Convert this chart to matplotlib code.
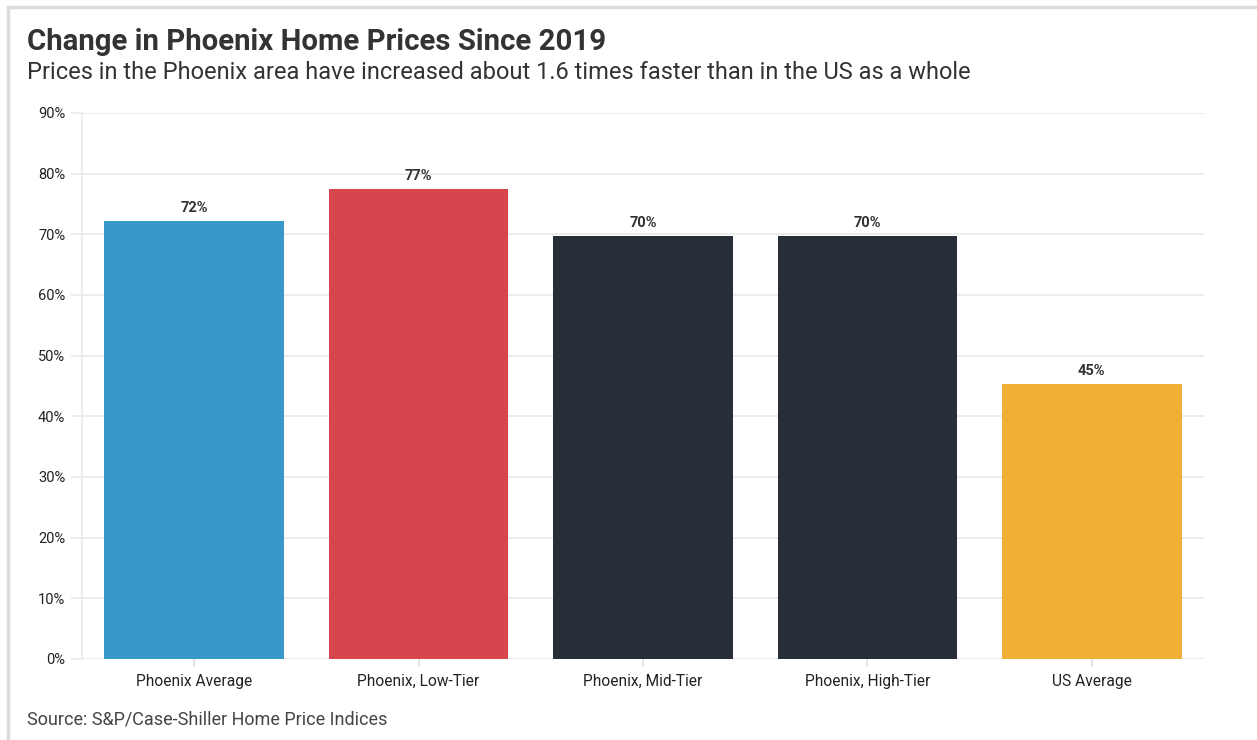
import numpy as np
import matplotlib.pyplot as plt
from matplotlib.patches import Rectangle

categories = ['Phoenix Average', 'Phoenix, Low-Tier', 'Phoenix, Mid-Tier',
              'Phoenix, High-Tier', 'US Average']
values = [72.2, 77.4, 69.7, 69.7, 45.3]
labels = ['72%', '77%', '70%', '70%', '45%']
colors = ['#3A98C9', '#D5474D', '#282E37', '#282E37', '#F0B037']
yticks = [0, 10, 20, 30, 40, 50, 60, 70, 80, 90]

plt.rcParams['font.family'] = ['Roboto', 'DejaVu Sans']

W, H = 1257, 740
fig = plt.figure(figsize=(W / 100, H / 100), dpi=100)

# light frame round the card
fig.patches.append(Rectangle((8 / W, -0.1), 1.2, (H - 7) / H + 0.1,
                             transform=fig.transFigure, fill=False,
                             edgecolor='#dcdcdc', linewidth=2.5))

ax = fig.add_axes([82 / W, 1 - 659 / H, (1204 - 82) / W, (659 - 113) / H])
x = np.arange(len(categories))
ax.bar(x, values, width=0.8, color=colors, zorder=2)
for xi, v, lab in zip(x, values, labels):
    ax.text(xi, v + 1.0, lab, ha='center', va='bottom', fontsize=10.5,
            fontweight='bold', color='#333333')

ax.set_xlim(-0.5, len(categories) - 0.5)
ax.set_ylim(0, 90)
ax.set_yticks(yticks)
ax.set_yticklabels([f'{t}%' for t in yticks])
ax.set_xticks(x)
ax.set_xticklabels(categories)
ax.grid(axis='y', color='#ebebeb', linewidth=1.3, zorder=0)
for s in ['top', 'right', 'bottom']:
    ax.spines[s].set_visible(False)
ax.spines['left'].set_color('#ebebeb')
ax.spines['left'].set_linewidth(1.3)
ax.tick_params(axis='y', length=8, color='#ebebeb', width=1.3,
               labelsize=10.5, labelcolor='#222222', pad=4)
ax.tick_params(axis='x', length=6, color='#e0e0e0', width=1.3,
               labelsize=11.2, labelcolor='#222222', pad=5)

fig.text(27 / W, 1 - 50 / H, 'Change in Phoenix Home Prices Since 2019',
         fontsize=21.2, fontweight='bold', color='#333333', va='baseline')
fig.text(27 / W, 1 - 79 / H,
         'Prices in the Phoenix area have increased about 1.6 times faster than in the US as a whole',
         fontsize=17, color='#333333', va='baseline')
fig.text(27 / W, 1 - 725 / H, 'Source: S&P/Case-Shiller Home Price Indices',
         fontsize=13, color='#444444', va='baseline')

fig.savefig('out.png', dpi=100, facecolor='white')
